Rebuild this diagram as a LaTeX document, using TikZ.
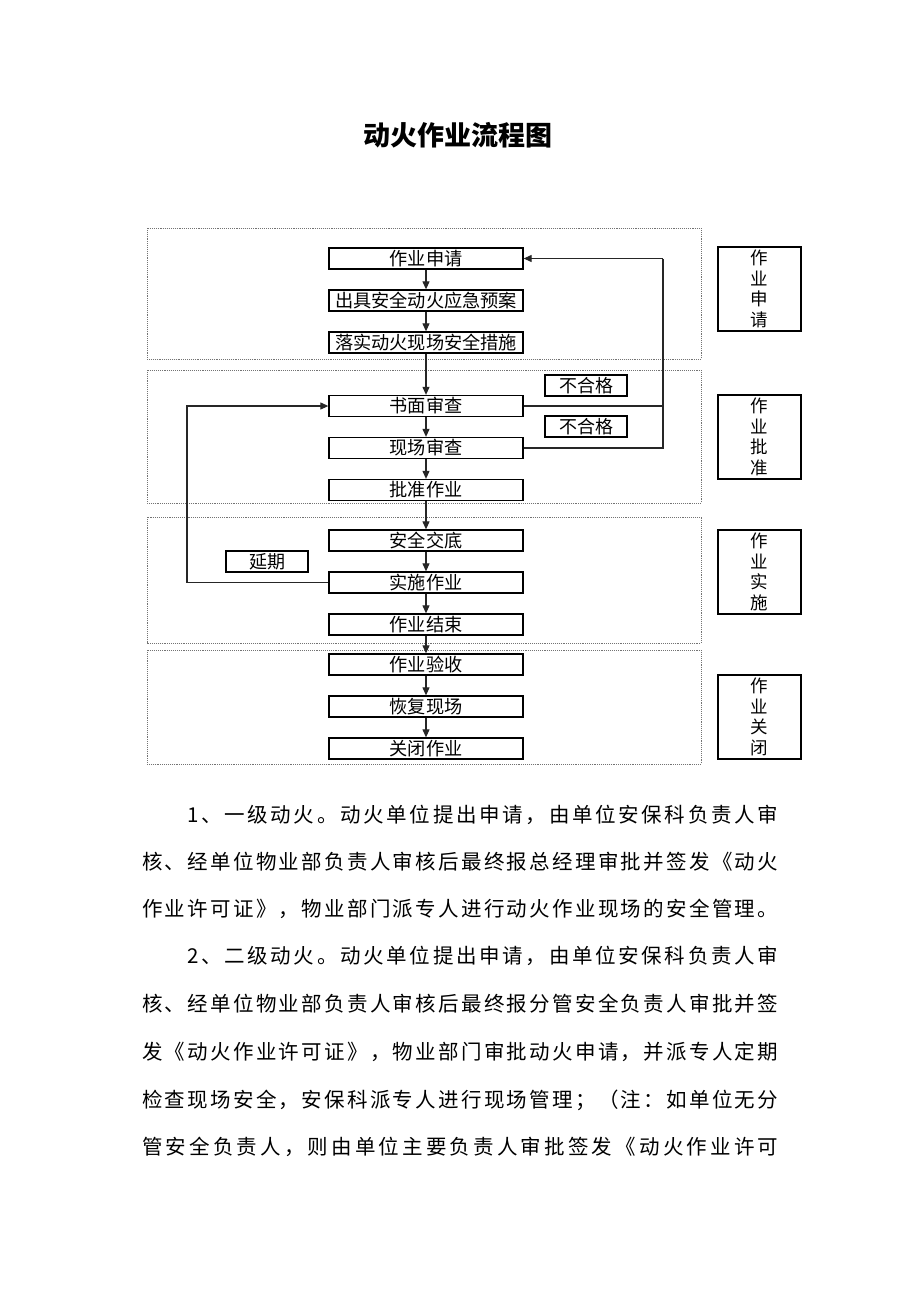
\documentclass[tikz,border=0pt]{standalone}
\usepackage{fontspec}
\setmainfont{Noto Sans CJK SC}
\usetikzlibrary{arrows.meta}
\ExplSyntaxOn
\NewDocumentCommand\spreadtext{mm}{\makebox[#1][s]{\tl_map_inline:nn{#2}{##1\hfil}\unskip}}
\ExplSyntaxOff
\begin{document}
\begin{tikzpicture}[x=1pt,y=-1pt,
  zone/.style={draw=black!55, densely dotted, line width=0.9pt},
  stepbox/.style={draw=black, line width=1.3pt, minimum width=194pt, minimum height=21pt, inner sep=0pt, font=\fontsize{18.2}{19}\selectfont},
  tagbox/.style={draw=black, line width=1.1pt, minimum width=82pt, minimum height=21pt, inner sep=0pt, font=\fontsize{18}{19}\selectfont},
  sidebox/.style={draw=black, line width=1.1pt, minimum width=83pt, minimum height=84pt, inner sep=0pt, align=center, font=\fontsize{17.5}{20.5}\selectfont},
  conn/.style={draw=black!85, line width=1.1pt},
  flow/.style={conn, -{Triangle[length=8pt,width=7pt]}},
  para/.style={anchor=west, inner sep=0pt, font=\fontsize{20.5}{22}\selectfont}
]
\fill[white] (0,0) rectangle (920,1302);
\useasboundingbox (0,0) rectangle (920,1302);

% title
\node[font=\fontsize{27}{30}\selectfont\bfseries] (title) at (458,135) {动火作业流程图};

% zones
\draw[zone] (147,228) rectangle (701,359);
\draw[zone] (147,370) rectangle (701,503);
\draw[zone] (147,517) rectangle (701,643);
\draw[zone] (147,650) rectangle (701,764);

% steps
\node[stepbox] (sq) at (426,258.5) {作业申请};
\node[stepbox] (ya) at (426,300.5) {出具安全动火应急预案};
\node[stepbox] (cs) at (426,342.5) {落实动火现场安全措施};
\node[stepbox] (sm) at (426,406) {书面审查};
\node[stepbox] (xc) at (426,448) {现场审查};
\node[stepbox] (pz) at (426,490) {批准作业};
\node[stepbox] (jd) at (426,540.5) {安全交底};
\node[stepbox] (ss) at (426,582.5) {实施作业};
\node[stepbox] (js) at (426,624.5) {作业结束};
\node[stepbox] (ys) at (426,664.5) {作业验收};
\node[stepbox] (hf) at (426,706.5) {恢复现场};
\node[stepbox] (gb) at (426,748.5) {关闭作业};

% tags
\node[tagbox] (bh1) at (586,385.5) {不合格};
\node[tagbox] (bh2) at (586,426.5) {不合格};
\node[tagbox] (yq) at (267,561.5) {延期};

% side labels
\node[sidebox] (s1) at (759.5,289) {作\\业\\申\\请};
\node[sidebox] (s2) at (759.5,437) {作\\业\\批\\准};
\node[sidebox] (s3) at (759.5,572) {作\\业\\实\\施};
\node[sidebox] (s4) at (759.5,717) {作\\业\\关\\闭};

% main flow
\draw[flow] (sq) -- (ya);
\draw[flow] (ya) -- (cs);
\draw[flow] (cs) -- (sm);
\draw[flow] (sm) -- (xc);
\draw[flow] (xc) -- (pz);
\draw[flow] (pz) -- (jd);
\draw[flow] (jd) -- (ss);
\draw[flow] (ss) -- (js);
\draw[flow] (js) -- (ys);
\draw[flow] (ys) -- (hf);
\draw[flow] (hf) -- (gb);

% right loop
\coordinate (rt) at (663,258.5);
\draw[conn] (sm.east) -| (rt);
\draw[conn] (xc.east) -| (rt);
\draw[flow] (rt) -- (sq.east);

% left loop
\coordinate (lt) at (187,406);
\draw[flow] (ss.west) -| (lt) -- (sm.west);

% paragraphs
\node[para] (p1) at (187,815) {\spreadtext{591pt}{1、一级动火。动火单位提出申请，由单位安保科负责人审}};
\node[para] (p2) at (142,862) {\spreadtext{636pt}{核、经单位物业部负责人审核后最终报总经理审批并签发《动火}};
\node[para] (p3) at (142,909) {\spreadtext{636pt}{作业许可证》，物业部门派专人进行动火作业现场的安全管理。}};
\node[para] (p4) at (187,956) {\spreadtext{591pt}{2、二级动火。动火单位提出申请，由单位安保科负责人审}};
\node[para] (p5) at (142,1004) {\spreadtext{636pt}{核、经单位物业部负责人审核后最终报分管安全负责人审批并签}};
\node[para] (p6) at (142,1052) {\spreadtext{636pt}{发《动火作业许可证》，物业部门审批动火申请，并派专人定期}};
\node[para] (p7) at (142,1100) {\spreadtext{636pt}{检查现场安全，安保科派专人进行现场管理；（注：如单位无分}};
\node[para] (p8) at (142,1147) {\spreadtext{636pt}{管安全负责人，则由单位主要负责人审批签发《动火作业许可}};
\end{tikzpicture}
\end{document}
